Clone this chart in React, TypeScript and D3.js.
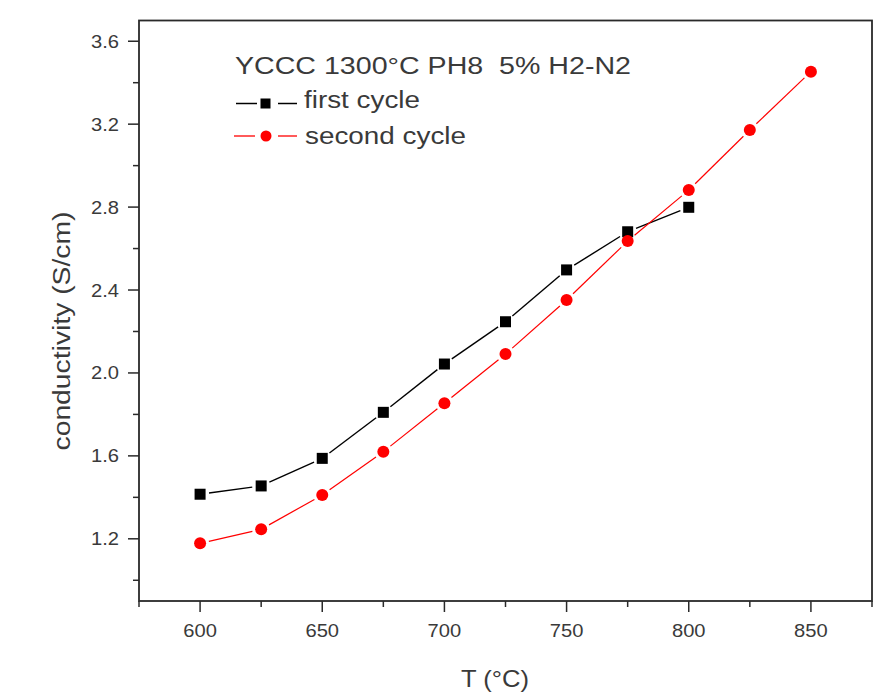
import React from "react";
import * as d3 from "d3";

// Conductivity vs temperature, two heating cycles
const firstTemps = [600, 625, 650, 675, 700, 725, 750, 775, 800];
const firstCycle = [1.415, 1.455, 1.588, 1.81, 2.043, 2.247, 2.497, 2.681, 2.799];
const secondTemps = [600, 625, 650, 675, 700, 725, 750, 775, 800, 825, 850];
const secondCycle = [1.178, 1.246, 1.411, 1.62, 1.854, 2.091, 2.352, 2.636, 2.882, 3.172, 3.453];

const xMajorTicks = [600, 650, 700, 750, 800, 850];
const xMinorTicks = [575, 625, 675, 725, 775, 825, 875];
const yMajorTicks = [1.2, 1.6, 2.0, 2.4, 2.8, 3.2, 3.6];
const yMinorTicks = [1.0, 1.4, 1.8, 2.2, 2.6, 3.0, 3.4];

const titleText = "YCCC 1300\u00B0C PH8\u00A0\u00A05% H2-N2";
const seriesNames = ["first cycle", "second cycle"];
const xTitle = "T (\u00B0C)";
const yTitle = "conductivity (S/cm)";

const W = 893;
const H = 693;
const left = 139;
const right = 872;
const top = 20.5;
const bottom = 601;

const FONT = "'Liberation Sans', Arial, sans-serif";
const AXIS = "#2a2a2a";
const TEXT = "#3a3a3a";

type Pt = [number, number];

// Line segments that stop short of each marker, leaving a small gap
function gappedSegments(pts: Pt[], gap: number) {
  const segs: { x1: number; y1: number; x2: number; y2: number }[] = [];
  for (let i = 0; i < pts.length - 1; i++) {
    const [ax, ay] = pts[i];
    const [bx, by] = pts[i + 1];
    const len = Math.hypot(bx - ax, by - ay);
    if (len <= 2 * gap) continue;
    const ux = (bx - ax) / len;
    const uy = (by - ay) / len;
    segs.push({
      x1: ax + ux * gap,
      y1: ay + uy * gap,
      x2: bx - ux * gap,
      y2: by - uy * gap,
    });
  }
  return segs;
}

export default function App() {
  const x = d3.scaleLinear().domain([575, 875]).range([left, right]);
  const y = d3.scaleLinear().domain([0.9, 3.7]).range([bottom, top]);

  const pts1: Pt[] = firstTemps.map((t, i) => [x(t), y(firstCycle[i])]);
  const pts2: Pt[] = secondTemps.map((t, i) => [x(t), y(secondCycle[i])]);

  const seg1 = gappedSegments(pts1, 9);
  const seg2 = gappedSegments(pts2, 9);

  const sq = 11;
  const r = 6;
  const fmt = d3.format(".1f");

  return (
    <svg
      width={W}
      height={H}
      style={{ position: "absolute", left: 0, top: 0, background: "#fff" }}
      fontFamily={FONT}
    >
      <rect x={0} y={0} width={W} height={H} fill="#fff" />

      {/* series lines */}
      {seg1.map((s, i) => (
        <line key={"b" + i} {...s} stroke="#000" strokeWidth={1.4} />
      ))}
      {seg2.map((s, i) => (
        <line key={"r" + i} {...s} stroke="#ff0000" strokeWidth={1.2} />
      ))}

      {/* markers */}
      {pts1.map(([px, py], i) => (
        <rect key={"bs" + i} x={px - sq / 2} y={py - sq / 2} width={sq} height={sq} fill="#000" />
      ))}
      {pts2.map(([px, py], i) => (
        <circle key={"rc" + i} cx={px} cy={py} r={r} fill="#ff0000" />
      ))}

      {/* frame */}
      <rect
        x={left}
        y={top}
        width={right - left}
        height={bottom - top}
        fill="none"
        stroke={AXIS}
        strokeWidth={1.8}
      />

      {/* x ticks */}
      {xMajorTicks.map((t) => (
        <g key={"xt" + t}>
          <line x1={x(t)} x2={x(t)} y1={bottom} y2={bottom + 11} stroke={AXIS} strokeWidth={1.5} />
          <text
            transform={`translate(${x(t)},${637}) scale(1.12,1)`}
            textAnchor="middle"
            fontSize={18}
            fill={TEXT}
          >
            {t}
          </text>
        </g>
      ))}
      {xMinorTicks.map((t) => (
        <line key={"xm" + t} x1={x(t)} x2={x(t)} y1={bottom} y2={bottom + 6} stroke={AXIS} strokeWidth={1.5} />
      ))}

      {/* y ticks */}
      {yMajorTicks.map((t) => (
        <g key={"yt" + t}>
          <line x1={left - 11} x2={left} y1={y(t)} y2={y(t)} stroke={AXIS} strokeWidth={1.5} />
          <text
            transform={`translate(${119},${y(t) + 6.5}) scale(1.12,1)`}
            textAnchor="end"
            fontSize={18}
            fill={TEXT}
          >
            {fmt(t)}
          </text>
        </g>
      ))}
      {yMinorTicks.map((t) => (
        <line key={"ym" + t} x1={left - 6} x2={left} y1={y(t)} y2={y(t)} stroke={AXIS} strokeWidth={1.5} />
      ))}

      {/* axis titles */}
      <text
        x={495}
        y={687}
        textAnchor="middle"
        fontSize={24}
        fill={TEXT}
        textLength={68}
        lengthAdjust="spacingAndGlyphs"
      >
        {xTitle}
      </text>
      <text
        transform={`translate(70,331) rotate(-90)`}
        textAnchor="middle"
        fontSize={23}
        fill={TEXT}
        textLength={239}
        lengthAdjust="spacingAndGlyphs"
      >
        {yTitle}
      </text>

      {/* legend */}
      <text x={235} y={74} fontSize={23} fill={TEXT} textLength={396} lengthAdjust="spacingAndGlyphs">
        {titleText}
      </text>

      <line x1={236} x2={257} y1={103.5} y2={103.5} stroke="#000" strokeWidth={1.5} />
      <rect x={260.5} y={98.5} width={10} height={10} fill="#000" />
      <line x1={278} x2={297} y1={103.5} y2={103.5} stroke="#000" strokeWidth={1.5} />
      <text x={304} y={108} fontSize={23} fill={TEXT} textLength={116} lengthAdjust="spacingAndGlyphs">
        {seriesNames[0]}
      </text>

      <line x1={234} x2={255} y1={136} y2={136} stroke="#ff0000" strokeWidth={1.3} />
      <circle cx={266} cy={136} r={5.5} fill="#ff0000" />
      <line x1={278} x2={297} y1={136} y2={136} stroke="#ff0000" strokeWidth={1.3} />
      <text x={305} y={144} fontSize={23} fill={TEXT} textLength={161} lengthAdjust="spacingAndGlyphs">
        {seriesNames[1]}
      </text>
    </svg>
  );
}
